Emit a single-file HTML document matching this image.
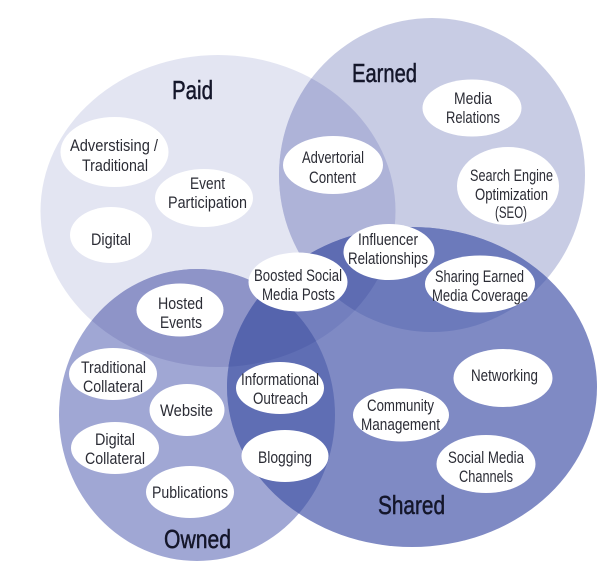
<!DOCTYPE html>
<html>
<head>
<meta charset="utf-8">
<style>
html,body{margin:0;padding:0;background:#fff;}
svg{display:block;}
text{font-family:"Liberation Sans Narrow","Liberation Sans",sans-serif;fill:#2b2c35;font-size:17px;}
.h{font-size:26px;fill:#14162a;stroke:#14162a;stroke-width:.5px;}
</style>
</head>
<body>
<svg width="616" height="574" viewBox="0 0 616 574" xmlns="http://www.w3.org/2000/svg">
<defs>
<clipPath id="cP"><ellipse cx="218" cy="211" rx="177.500" ry="156"/></clipPath>
<clipPath id="cE"><ellipse cx="432" cy="175" rx="153" ry="157"/></clipPath>
<clipPath id="cS"><ellipse cx="412" cy="387" rx="185" ry="160"/></clipPath>
<clipPath id="cO"><ellipse cx="197" cy="415" rx="138" ry="146"/></clipPath>
</defs>
<rect width="616" height="574" fill="#fff"/>
<ellipse cx="218" cy="211" rx="177.500" ry="156" fill="#e3e5f2"/>
<ellipse cx="432" cy="175" rx="153" ry="157" fill="#c8cce4"/>
<ellipse cx="197" cy="415" rx="138" ry="146" fill="#a0a7d4"/>
<ellipse cx="412" cy="387" rx="185" ry="160" fill="#7f8ac4"/>
<g clip-path="url(#cP)">
<ellipse cx="432" cy="175" rx="153" ry="157" fill="#aeb3d8"/>
<ellipse cx="197" cy="415" rx="138" ry="146" fill="#8e94c8"/>
<ellipse cx="412" cy="387" rx="185" ry="160" fill="#737fbe"/>
</g>
<g clip-path="url(#cS)">
<ellipse cx="432" cy="175" rx="153" ry="157" fill="#6c7abb"/>
<ellipse cx="197" cy="415" rx="138" ry="146" fill="#5f6eb4"/>
</g>
<g clip-path="url(#cS)"><g clip-path="url(#cP)">
<ellipse cx="432" cy="175" rx="153" ry="157" fill="#5e6cb2"/>
<ellipse cx="197" cy="415" rx="138" ry="146" fill="#5564ad"/>
</g></g>
<g fill="#fff">
<ellipse cx="114.500" cy="152" rx="54" ry="35"/>
<ellipse cx="204" cy="198" rx="49" ry="29"/>
<ellipse cx="111" cy="235" rx="41" ry="28"/>
<ellipse cx="333" cy="165" rx="50" ry="29"/>
<ellipse cx="472" cy="108" rx="49.500" ry="28.500"/>
<ellipse cx="508" cy="186" rx="51" ry="39"/>
<ellipse cx="389" cy="252" rx="45.500" ry="28"/>
<ellipse cx="480" cy="284" rx="55" ry="28.500"/>
<ellipse cx="298" cy="282" rx="49.500" ry="29.500"/>
<ellipse cx="180" cy="310" rx="43.500" ry="26.500"/>
<ellipse cx="113" cy="374" rx="44" ry="26"/>
<ellipse cx="187" cy="410" rx="37.500" ry="26"/>
<ellipse cx="115" cy="448" rx="44" ry="26"/>
<ellipse cx="190" cy="492" rx="44" ry="26"/>
<ellipse cx="280" cy="388" rx="44" ry="26"/>
<ellipse cx="285" cy="456" rx="43.500" ry="26"/>
<ellipse cx="503" cy="378" rx="49.500" ry="29"/>
<ellipse cx="401" cy="415" rx="48" ry="26.500"/>
<ellipse cx="486" cy="464" rx="49.500" ry="29"/>
</g>
<g>
<text class="h" x="172" y="99" textLength="41" lengthAdjust="spacingAndGlyphs">Paid</text>
<text class="h" x="352" y="82" textLength="65" lengthAdjust="spacingAndGlyphs">Earned</text>
<text class="h" x="164" y="548" textLength="67" lengthAdjust="spacingAndGlyphs">Owned</text>
<text class="h" x="378" y="514" textLength="67" lengthAdjust="spacingAndGlyphs">Shared</text>

<text x="70" y="151" textLength="88" lengthAdjust="spacingAndGlyphs">Adverstising /</text>
<text x="82" y="171" textLength="66" lengthAdjust="spacingAndGlyphs">Traditional</text>
<text x="190" y="189" textLength="35" lengthAdjust="spacingAndGlyphs">Event</text>
<text x="168" y="208" textLength="79" lengthAdjust="spacingAndGlyphs">Participation</text>
<text x="91" y="245" textLength="40" lengthAdjust="spacingAndGlyphs">Digital</text>
<text x="302" y="163" textLength="62" lengthAdjust="spacingAndGlyphs">Advertorial</text>
<text x="309" y="183" textLength="47" lengthAdjust="spacingAndGlyphs">Content</text>
<text x="454" y="104" textLength="38" lengthAdjust="spacingAndGlyphs">Media</text>
<text x="446" y="123" textLength="54" lengthAdjust="spacingAndGlyphs">Relations</text>
<text x="470" y="181" textLength="83" lengthAdjust="spacingAndGlyphs">Search Engine</text>
<text x="475" y="200" textLength="73" lengthAdjust="spacingAndGlyphs">Optimization</text>
<text x="495" y="218" textLength="32" lengthAdjust="spacingAndGlyphs">(SEO)</text>
<text x="358" y="245" textLength="60" lengthAdjust="spacingAndGlyphs">Influencer</text>
<text x="348" y="264" textLength="80" lengthAdjust="spacingAndGlyphs">Relationships</text>
<text x="435" y="282" textLength="89" lengthAdjust="spacingAndGlyphs">Sharing Earned</text>
<text x="432" y="301" textLength="96" lengthAdjust="spacingAndGlyphs">Media Coverage</text>
<text x="254" y="281" textLength="88" lengthAdjust="spacingAndGlyphs">Boosted Social</text>
<text x="262" y="300" textLength="73" lengthAdjust="spacingAndGlyphs">Media Posts</text>
<text x="158" y="309" textLength="45" lengthAdjust="spacingAndGlyphs">Hosted</text>
<text x="160" y="328" textLength="42" lengthAdjust="spacingAndGlyphs">Events</text>
<text x="81" y="373" textLength="65" lengthAdjust="spacingAndGlyphs">Traditional</text>
<text x="83" y="392" textLength="60" lengthAdjust="spacingAndGlyphs">Collateral</text>
<text x="160" y="416" textLength="53" lengthAdjust="spacingAndGlyphs">Website</text>
<text x="95" y="445" textLength="40" lengthAdjust="spacingAndGlyphs">Digital</text>
<text x="85" y="464" textLength="60" lengthAdjust="spacingAndGlyphs">Collateral</text>
<text x="152" y="498" textLength="76" lengthAdjust="spacingAndGlyphs">Publications</text>
<text x="241" y="385" textLength="78" lengthAdjust="spacingAndGlyphs">Informational</text>
<text x="253" y="404" textLength="55" lengthAdjust="spacingAndGlyphs">Outreach</text>
<text x="258" y="463" textLength="54" lengthAdjust="spacingAndGlyphs">Blogging</text>
<text x="471" y="381" textLength="67" lengthAdjust="spacingAndGlyphs">Networking</text>
<text x="367" y="411" textLength="67" lengthAdjust="spacingAndGlyphs">Community</text>
<text x="361" y="430" textLength="79" lengthAdjust="spacingAndGlyphs">Management</text>
<text x="448" y="463" textLength="76" lengthAdjust="spacingAndGlyphs">Social Media</text>
<text x="459" y="482" textLength="54" lengthAdjust="spacingAndGlyphs">Channels</text>
</g>
</svg>
</body>
</html>
